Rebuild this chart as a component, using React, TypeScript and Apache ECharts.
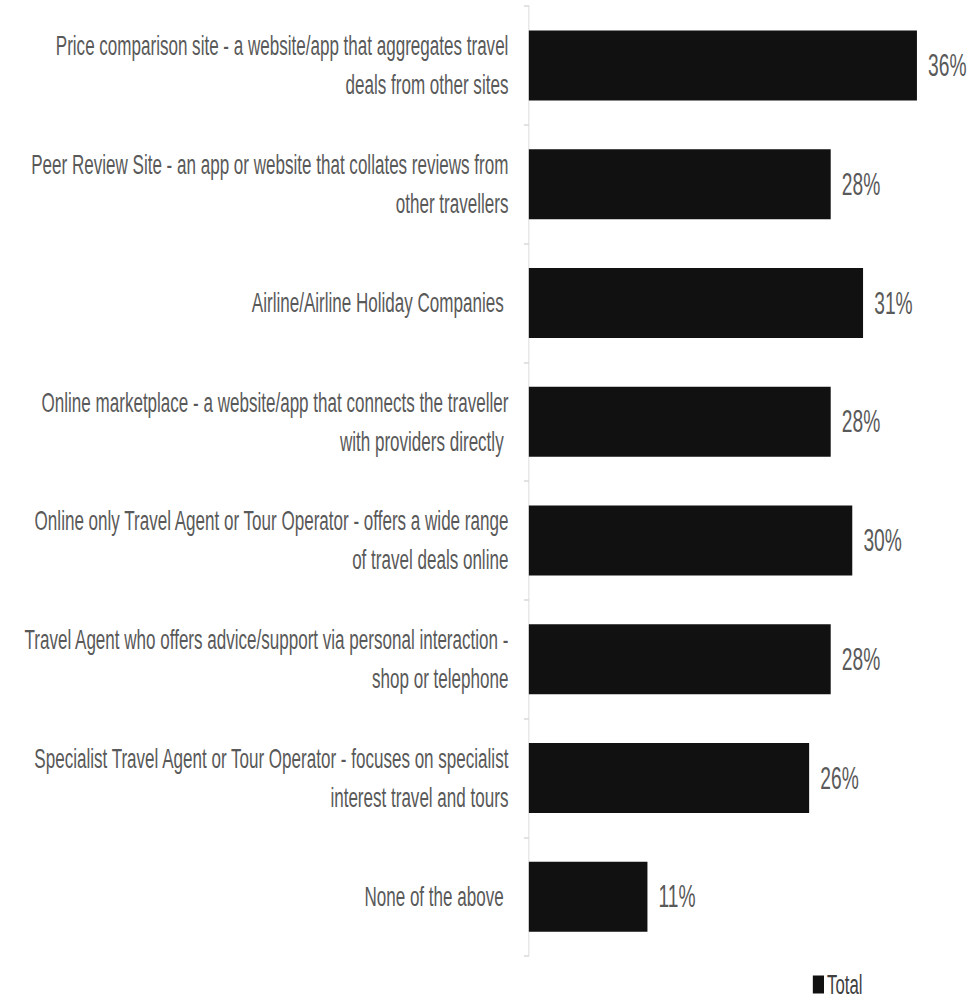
import React, { useEffect, useRef } from "react";
import * as echarts from "echarts";

const categories: string[] = [
  "Price comparison site - a website/app that aggregates travel\ndeals from other sites",
  "Peer Review Site - an app or website that collates reviews from\nother travellers",
  "Airline/Airline Holiday Companies ",
  "Online marketplace - a website/app that connects the traveller\nwith providers directly ",
  "Online only Travel Agent or Tour Operator - offers a wide range\nof travel deals online",
  "Travel Agent who offers advice/support via personal interaction -\nshop or telephone",
  "Specialist Travel Agent or Tour Operator - focuses on specialist\ninterest travel and tours",
  "None of the above ",
];
const totalValues: number[] = [36, 28, 31, 28, 30, 28, 26, 11];
const seriesName = "Total";

const SCALE_X = 0.62;
const W = 971 / SCALE_X;
const H = 1000;

export default function App() {
  const ref = useRef<HTMLDivElement>(null);
  useEffect(() => {
    if (!ref.current) return;
    const chart = echarts.init(ref.current, undefined, { renderer: "svg" });
    const font = "Liberation Sans, Arial, sans-serif";
    chart.setOption({
      animation: false,
      backgroundColor: "#ffffff",
      grid: { left: 853, right: 17.5, top: 6, bottom: 44, containLabel: false },
      legend: {
        data: [seriesName],
        left: 1306,
        top: 966,
        icon: "rect",
        itemWidth: 18,
        itemHeight: 18,
        textStyle: { fontFamily: font, fontSize: 27, color: "#404040" },
      },
      xAxis: {
        type: "value",
        min: 0,
        max: 40,
        show: false,
      },
      yAxis: {
        type: "category",
        data: categories,
        inverse: true,
        axisLine: { show: true, lineStyle: { color: "#d9d9d9", width: 1.5 } },
        axisTick: { show: true, length: 8, lineStyle: { color: "#d9d9d9", width: 1.5 } },
        axisLabel: {
          fontFamily: font,
          fontSize: 27.5,
          lineHeight: 39,
          color: "#595959",
          margin: 33,
          align: "right",
        },
      },
      series: [
        {
          name: seriesName,
          type: "bar",
          data: totalValues,
          barWidth: 70,
          itemStyle: { color: "#111111" },
          label: {
            show: true,
            position: "right",
            distance: 18,
            formatter: "{c}%",
            fontFamily: font,
            fontSize: 31,
            color: "#595959",
          },
        },
      ],
    });
    return () => chart.dispose();
  }, []);
  return (
    <div
      style={{
        position: "absolute",
        left: 0,
        top: 0,
        width: 971,
        height: 1000,
        overflow: "hidden",
        background: "#fff",
      }}
    >
      <div
        ref={ref}
        style={{
          width: W,
          height: H,
          transform: `scaleX(${SCALE_X})`,
          transformOrigin: "0 0",
        }}
      />
    </div>
  );
}
